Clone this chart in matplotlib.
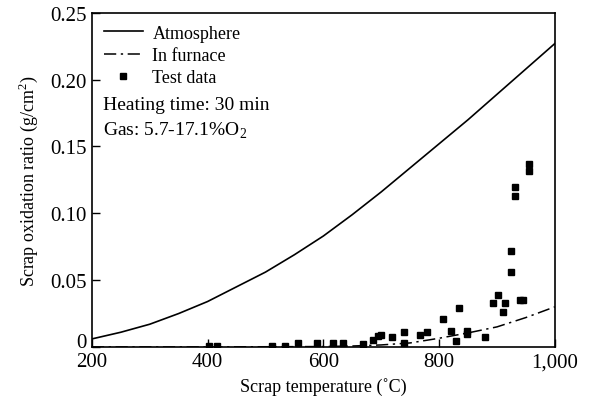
import matplotlib.pyplot as plt
import matplotlib.transforms as mtransforms
from matplotlib.ticker import FixedLocator, FixedFormatter

# curves
atm_t = [200, 250, 300, 350, 400, 450, 500, 550, 600, 650, 700, 750, 800, 850, 900, 950, 1000]
atm_y = [0.006, 0.011, 0.017, 0.025, 0.034, 0.045, 0.056, 0.069, 0.083, 0.099, 0.116,
         0.134, 0.152, 0.170, 0.189, 0.208, 0.227]

furn_t = [200, 400, 600, 650, 700, 750, 800, 850, 900, 950, 1000]
furn_y = [0.0, 0.0, 0.0003, 0.0007, 0.0015, 0.003, 0.0065, 0.0105, 0.015, 0.022, 0.030]

# test data
test_t = [403, 417, 511, 533, 556, 589, 617, 634, 668, 686, 695, 700,
          718, 739, 739, 767, 779, 807, 820, 829, 834, 849, 849, 879,
          893, 902, 910, 914, 925, 925, 931, 931, 940, 945, 955, 955]
test_y = [0.001, 0.001, 0.001, 0.001, 0.003, 0.003, 0.003, 0.003, 0.002, 0.005, 0.008, 0.009,
          0.0075, 0.011, 0.003, 0.009, 0.011, 0.021, 0.012, 0.0045, 0.029, 0.012, 0.010, 0.0075,
          0.033, 0.039, 0.026, 0.033, 0.056, 0.072, 0.120, 0.113, 0.035, 0.035, 0.137, 0.132]

x_ticks = [200, 400, 600, 800, 1000]
x_labels = ["200", "400", "600", "800", "1,000"]
y_ticks = [0, 0.05, 0.10, 0.15, 0.20, 0.25]
y_labels = ["0", "0.05", "0.10", "0.15", "0.20", "0.25"]

plt.rcParams['font.family'] = ['Liberation Serif', 'DejaVu Serif']
plt.rcParams['mathtext.fontset'] = 'custom'
plt.rcParams['mathtext.rm'] = 'Liberation Serif'

fig = plt.figure(figsize=(5.89, 4.06), dpi=100)
ax = fig.add_axes([0.156, 0.143, 0.786, 0.823])

ax.plot(atm_t, atm_y, color="black", lw=1.2, label="Atmosphere")
ax.plot(furn_t, furn_y, color="black", lw=1.1, ls=(0, (8, 3, 1.5, 3)), label="In furnace")
ax.plot(test_t, test_y, ls="none", marker="s", ms=4.5, color="black", label="Test data")

ax.set_xlim(200, 1000)
ax.set_ylim(0, 0.25)
ax.xaxis.set_major_locator(FixedLocator(x_ticks))
ax.xaxis.set_major_formatter(FixedFormatter(x_labels))
ax.yaxis.set_major_locator(FixedLocator(y_ticks))
ax.yaxis.set_major_formatter(FixedFormatter(y_labels))
ax.tick_params(direction="in", length=6, width=1, labelsize=15, pad=4)
ax.tick_params(axis="x", pad=4)

for s in ax.spines.values():
    s.set_linewidth(1.2)

# lift the "0" label a few pixels, as in the source figure
zero_lbl = ax.yaxis.get_major_ticks()[0].label1
zero_lbl.set_transform(zero_lbl.get_transform()
                       + mtransforms.ScaledTranslation(0, 0.07, fig.dpi_scale_trans))

ax.set_xlabel("Scrap temperature (\u02daC)", fontsize=13, labelpad=4)
ax.set_ylabel("Scrap oxidation ratio (g/cm$^2$)", fontsize=13, labelpad=7)

ax.legend(loc="upper left", frameon=False, fontsize=13, handlelength=2.2,
          handletextpad=0.5, labelspacing=0.3, borderaxespad=0.25,
          bbox_to_anchor=(0.0, 1.0))

ax.text(0.025, 0.725, "Heating time: 30 min", transform=ax.transAxes, fontsize=14, va="center")
ax.text(0.025, 0.650, "Gas: 5.7-17.1%O$_2$", transform=ax.transAxes, fontsize=14, va="center")

fig.savefig("out.png", dpi=100)
